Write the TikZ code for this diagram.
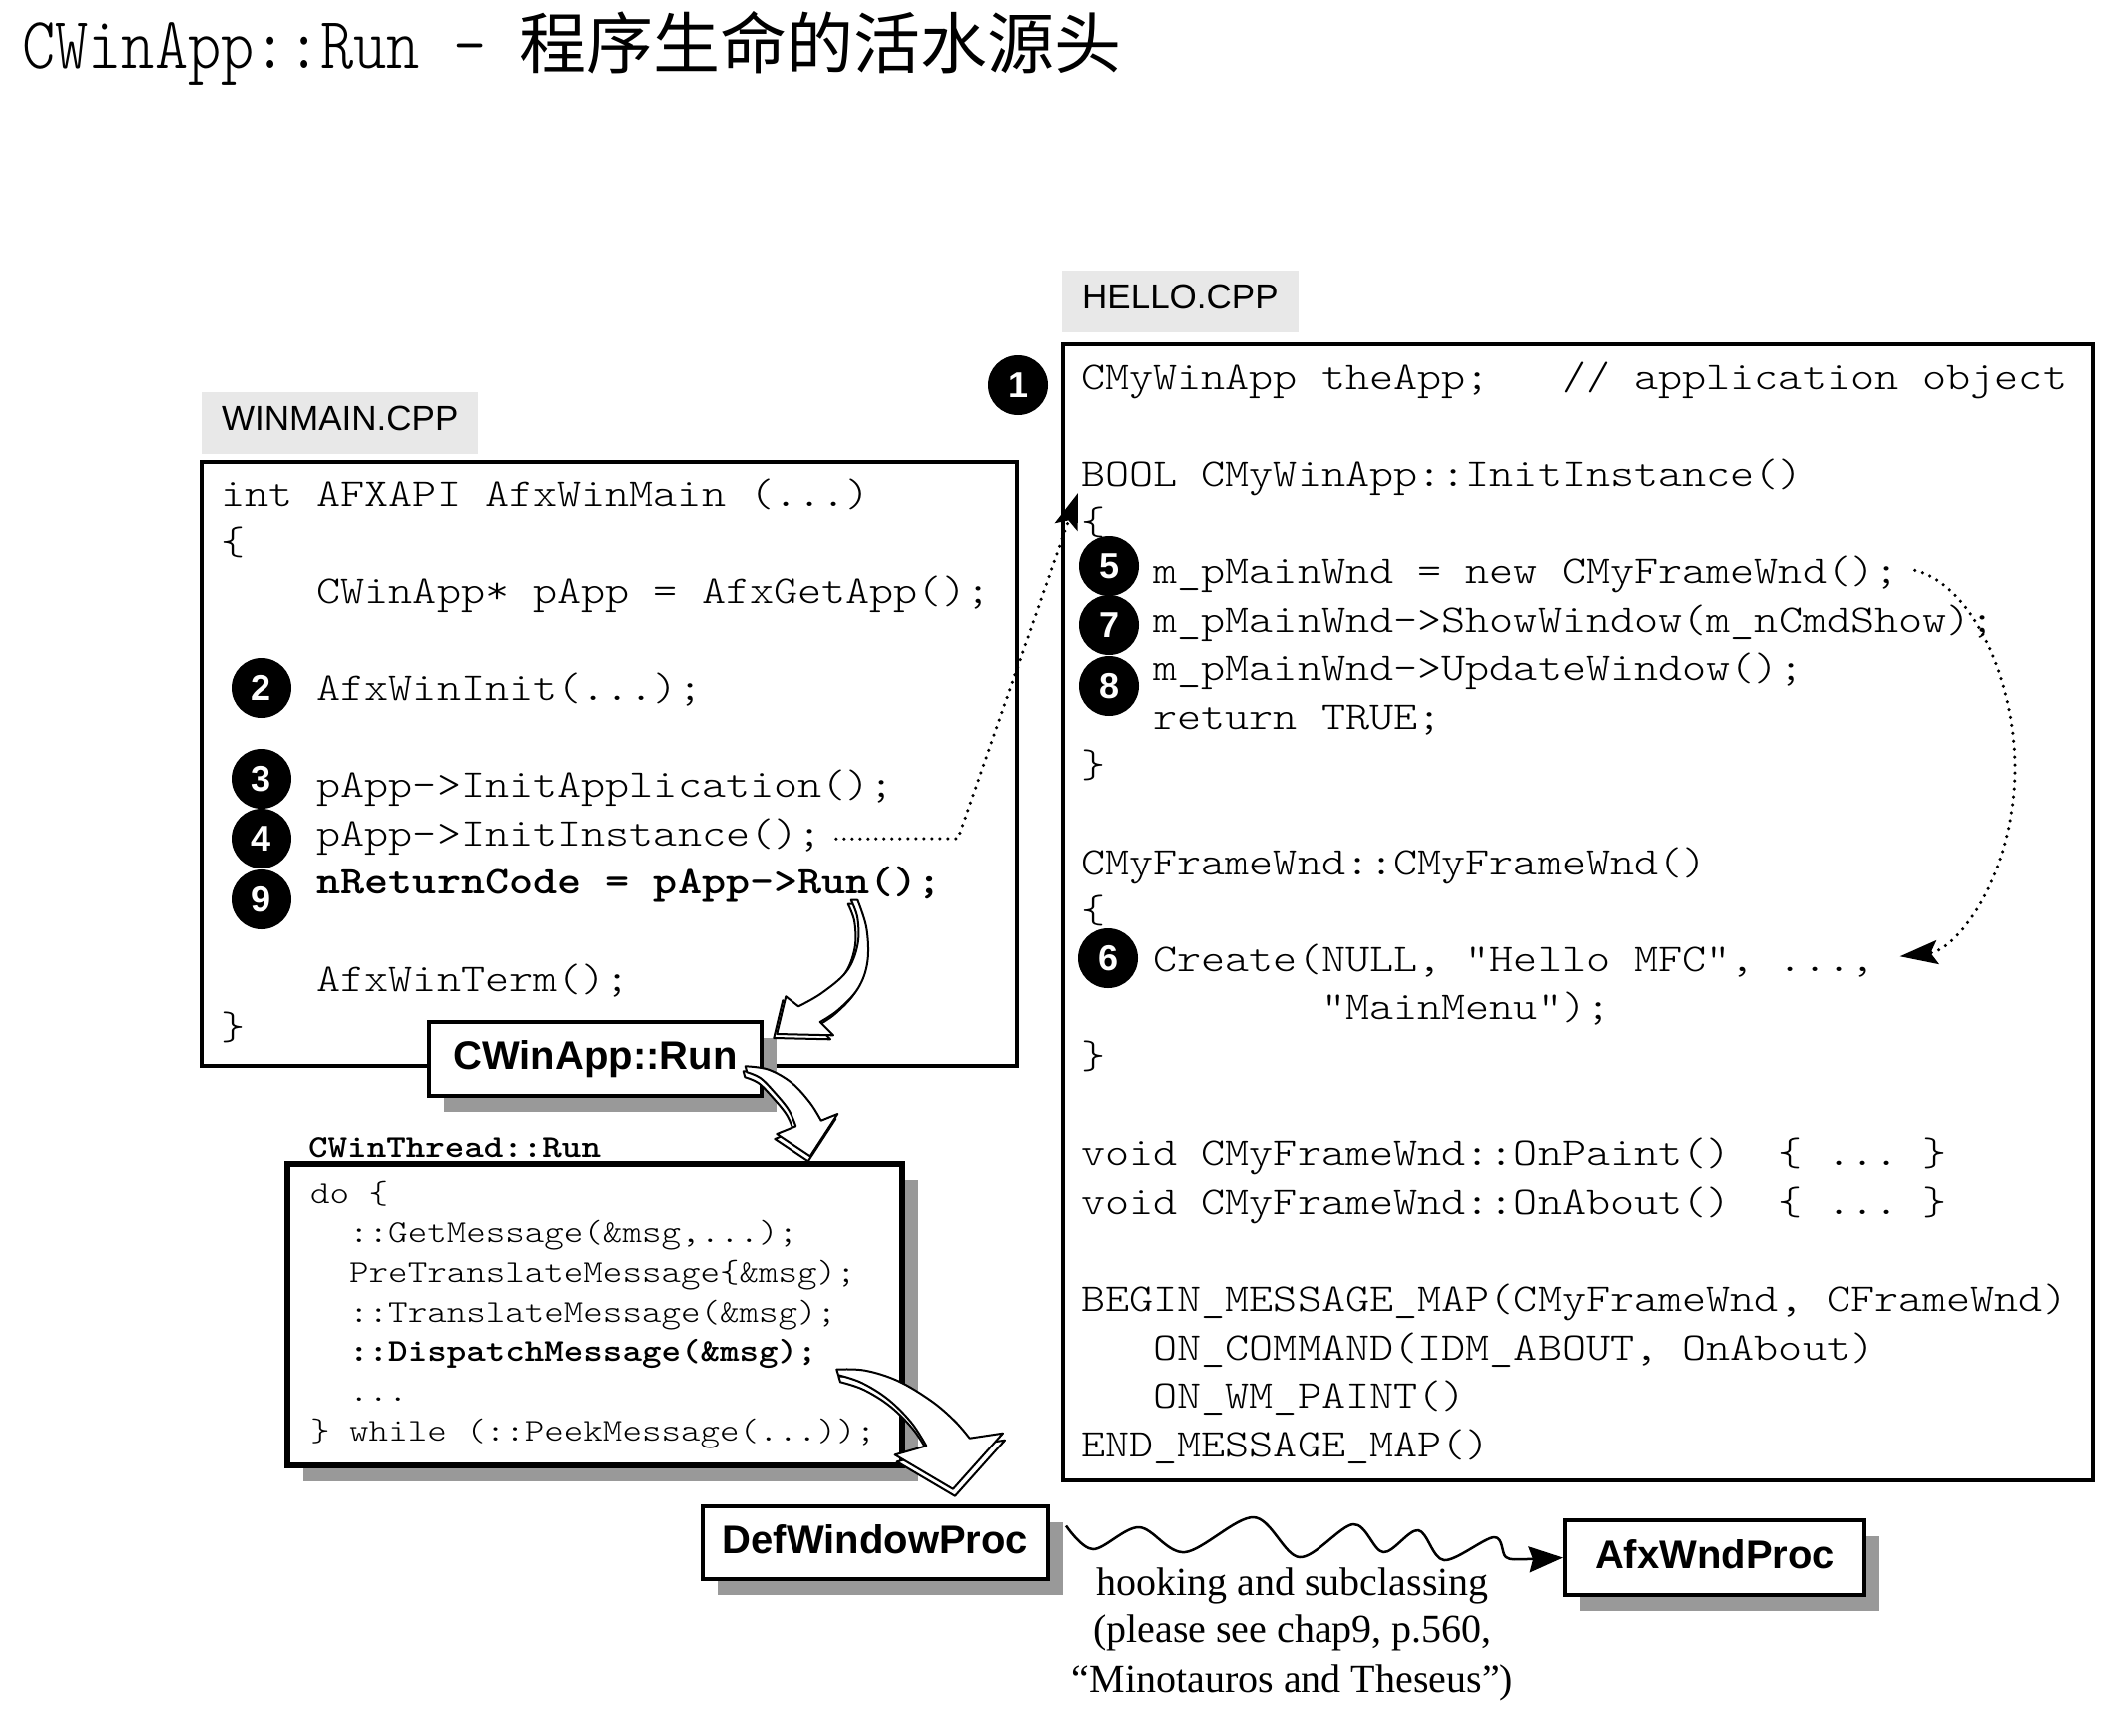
\documentclass[tikz,border=0pt]{standalone}
\usepackage{fontspec}
\setmainfont{Liberation Serif}
\setsansfont{Liberation Sans}
\newfontfamily\codefont{lmmonolt10-regular.otf}[FakeStretch=1.162, BoldFont=lmmonolt10-bold.otf]
\newfontfamily\titlelatin{lmmonolt10-regular.otf}[FakeStretch=0.86]
\newfontfamily\cjkfont{Noto Sans CJK SC}
\usetikzlibrary{arrows.meta, calc, shadows}
\definecolor{labelgray}{HTML}{E8E8E8}
\definecolor{shadowgray}{HTML}{999999}

\begin{document}
\begin{tikzpicture}[x=1pt, y=-1pt,
  code/.style={anchor=base west, inner sep=0pt, font=\codefont\fontsize{39.5}{40}\selectfont\frenchspacing},
  loopcode/.style={anchor=base west, inner sep=0pt, font=\codefont\fontsize{32}{33}\selectfont\frenchspacing},
  tag/.style={fill=labelgray, anchor=base west, inner xsep=20pt, inner ysep=0pt,
    text height=38pt, text depth=24pt, font=\sffamily\fontsize{35}{35}\selectfont},
  filebox/.style={draw, line width=4pt, inner sep=0pt},
  numc/.style={circle, fill=black, text=white, inner sep=0pt, minimum size=60pt,
    font=\sffamily\bfseries\fontsize{36}{36}\selectfont},
  boxshadow/.style={drop shadow={shadow xshift=15pt, shadow yshift=-16pt, fill=shadowgray, opacity=1}},
  proc/.style={draw, line width=4pt, fill=white, inner sep=0pt, text height=29pt, text depth=8pt,
    font=\sffamily\bfseries\fontsize{40}{40}\selectfont, boxshadow},
  harrow/.style={draw=black, fill=white, line width=2pt, line join=round},
  dotline/.style={line width=3.5pt, dash pattern=on 0pt off 8pt, line cap=round},
  note/.style={anchor=base, inner sep=0pt, font=\rmfamily\fontsize{40}{40}\selectfont},
  % outlines of the three hollow ribbon arrows
  ribbonA/.style={insert path={(852.7,901.7) -- plot[smooth, tension=0.6] coordinates {(859.3,901.7) (868.3,930) (869.3,963.3) (860,990) (840,1011.7) (821.7,1024)}
    -- (835,1037.3) -- (778.3,1036) -- (787.3,998.3)
    -- plot[smooth, tension=0.6] coordinates {(800,1008.3) (823.3,995) (848.3,973.3) (859.3,946.7) (859.3,920) (852.7,901.7)} -- cycle}},
  ribbonB/.style={insert path={(748.3,1074.3) -- plot[smooth, tension=0.6] coordinates {(746.7,1068.3) (770,1071.7) (793.3,1085) (811.7,1105) (822.7,1122.7)}
    -- (839.3,1116) -- (811.7,1158.3) -- (778.3,1136)
    -- plot[smooth, tension=0.6] coordinates {(797.3,1128.3) (790,1111.7) (775,1093.3) (761.7,1080) (748.3,1074.3)} -- cycle}},
  ribbonC/.style={insert path={(840,1377.3) -- plot[smooth, tension=0.6] coordinates {(838.3,1371.7) (866.7,1372.7) (900,1383.3) (933.3,1403.3) (956.7,1423.3) (971.7,1440.7)}
    -- (1005,1435.7) -- (955,1491.7) -- (896.7,1457.3)
    -- plot[smooth, tension=0.6] coordinates {(928.3,1448.3) (913.3,1425) (890,1401.7) (863.3,1385) (840,1377.3)} -- cycle}}
]
\useasboundingbox (0,0) rectangle (2115,1738);
\fill[white] (0,0) rectangle (2115,1738);

% title
\node[anchor=base west, inner sep=0pt] (title) at (22,68)
  {\titlelatin\fontsize{73.6}{75}\selectfont CWinApp::Run - \cjkfont\fontsize{67}{70}\selectfont 程序生命的活水源头};

% file tags and frames
\node[tag] (wtag) at (202,431) {WINMAIN.CPP};
\node[tag] (htag) at (1064,309) {HELLO.CPP};
\node[filebox, minimum width=817pt, minimum height=605pt] (winmain) at (610.5,765.5) {};
\node[filebox, line width=3.5pt, minimum width=1032pt, minimum height=1138pt] (hello) at (1581,914) {};

% WINMAIN.CPP code
\node[code] (wm0) at (221,507) {int AFXAPI AfxWinMain (...)};
\node[code] (wm1) at (221,555.6) {\{};
\node[code] (wm2) at (317.4,604.2) {CWinApp* pApp = AfxGetApp();};
\node[code] (wm4) at (317.4,701.4) {AfxWinInit(...);};
\node[code] (wm6) at (317.4,798.6) {pApp->InitApplication();};
\node[code] (initinst) at (317.4,847.2) {pApp->InitInstance();};
\node[code] (runcall) at (317.4,895.8) {\bfseries nReturnCode = pApp->Run();};
\node[code] (wm10) at (317.4,993) {AfxWinTerm();};
\node[code] (wm11) at (221,1041.6) {\}};

% HELLO.CPP code
\node[code] (h0) at (1083,390) {CMyWinApp theApp;~~~// application object};
\node[code] (h2) at (1083,487.2) {BOOL CMyWinApp::InitInstance()};
\node[code] (h3) at (1083,535.8) {\{};
\node[code] (newframe) at (1155.3,584.4) {m\_pMainWnd = new CMyFrameWnd();};
\node[code] (h5) at (1155.3,633) {m\_pMainWnd->ShowWindow(m\_nCmdShow);};
\node[code] (h6) at (1155.3,681.6) {m\_pMainWnd->UpdateWindow();};
\node[code] (h7) at (1155.3,730.2) {return TRUE;};
\node[code] (h8) at (1083,778.8) {\}};
\node[code] (h10) at (1083,876) {CMyFrameWnd::CMyFrameWnd()};
\node[code] (h11) at (1083,924.6) {\{};
\node[code] (create) at (1155.3,973.2) {Create(NULL, "Hello MFC", ...,};
\node[code] (h13) at (1324,1021.8) {"MainMenu");};
\node[code] (h14) at (1083,1070.4) {\}};
\node[code] (h16) at (1083,1167.6) {void CMyFrameWnd::OnPaint()~~\{ ... \}};
\node[code] (h17) at (1083,1216.2) {void CMyFrameWnd::OnAbout()~~\{ ... \}};
\node[code] (h19) at (1083,1313.4) {BEGIN\_MESSAGE\_MAP(CMyFrameWnd, CFrameWnd)};
\node[code] (h20) at (1155.3,1362) {ON\_COMMAND(IDM\_ABOUT, OnAbout)};
\node[code] (h21) at (1155.3,1410.6) {ON\_WM\_PAINT()};
\node[code] (h22) at (1083,1459.2) {END\_MESSAGE\_MAP()};

% step numbers
\node[numc] (n1) at (1020,386) {1};
\node[numc] (n2) at (262,689) {2};
\node[numc] (n3) at (262,780) {3};
\node[numc] (n4) at (262,840) {4};
\node[numc] (n9) at (262,901) {9};
\node[numc] (n5) at (1111,567) {5};
\node[numc] (n7) at (1111,626) {7};
\node[numc] (n8) at (1111,687) {8};
\node[numc] (n6) at (1110,960) {6};

% CWinApp::Run
\node[proc, minimum width=333pt, minimum height=74pt] (run) at (596.5,1061) {CWinApp::Run};

% CWinThread::Run message loop
\node[draw, line width=5.5pt, fill=white, minimum width=616pt, minimum height=302pt,
  drop shadow={shadow xshift=16pt, shadow yshift=-16pt, fill=shadowgray, opacity=1}] (loop) at (596,1317) {};
\node[loopcode] (looplabel) at (309,1159) {\bfseries CWinThread::Run};
\node[loopcode] (l0) at (311,1205) {do \{};
\node[loopcode] (l1) at (350,1244.7) {::GetMessage(\&msg,...);};
\node[loopcode] (l2) at (350,1284.4) {PreTranslateMessage\{\&msg);};
\node[loopcode] (l3) at (350,1324.1) {::TranslateMessage(\&msg);};
\node[loopcode] (dispatch) at (350,1363.8) {\bfseries ::DispatchMessage(\&msg);};
\node[loopcode] (l5) at (350,1403.5) {...};
\node[loopcode] (l6) at (311,1443.2) {\} while (::PeekMessage(...));};

% window procedures
\node[proc, minimum width=346pt, minimum height=73pt] (def) at (877,1545.5) {DefWindowProc};
\node[proc, minimum width=300pt, minimum height=75pt] (afx) at (1718,1560.5) {AfxWndProc};

% hollow ribbon arrows (side face first, then top face)
\path[harrow, shift={(-3,4)}, ribbonA];
\path[harrow, ribbonA];
\path[harrow, shift={(-2,5)}, ribbonB];
\path[harrow, ribbonB];
\path[harrow, shift={(2,7)}, ribbonC];
\path[harrow, ribbonC];

% dotted call arrows
\coordinate (d1s) at ($(initinst.base east)+(14,-7)$);
\coordinate (d1c) at (960,840);
\coordinate (d1t) at (1080,494);
\draw[dotline, -{Stealth[length=36pt, width=24pt, inset=7pt]}] (d1s) -- (d1c) -- (d1t);

\coordinate (d2s) at ($(newframe.base east)+(16,-13)$);
\coordinate (d2m) at (2019,773);
\coordinate (d2t) at ($(create.base east)+(25,-15)$);
\draw[dotline, -{Stealth[length=38pt, width=24pt, inset=7pt]}]
  (d2s) .. controls (1975,585) and (2020,680) .. (d2m)
        .. controls (2017,880) and (1960,952) .. (d2t);

% wavy hook connector
\coordinate (w0) at ($(def.east)+(16,-17)$);
\draw[line width=2.5pt, line join=round, -{Stealth[length=34pt, width=26pt, inset=4pt]}]
  plot[smooth, tension=0.55] coordinates {(w0) (1095,1552) (1141,1530) (1187,1555) (1256,1520) (1302,1560)
    (1356,1527) (1386,1555) (1421,1533) (1447,1563) (1497,1540) (1509,1560) (1528,1562) (afx.west)};

\node[note] (hook1) at (1295,1598) {hooking and subclassing};
\node[note] (hook2) at (1295,1645) {(please see chap9, p.560,};
\node[note] (hook3) at (1295,1695) {“Minotauros and Theseus”)};
\end{tikzpicture}
\end{document}
